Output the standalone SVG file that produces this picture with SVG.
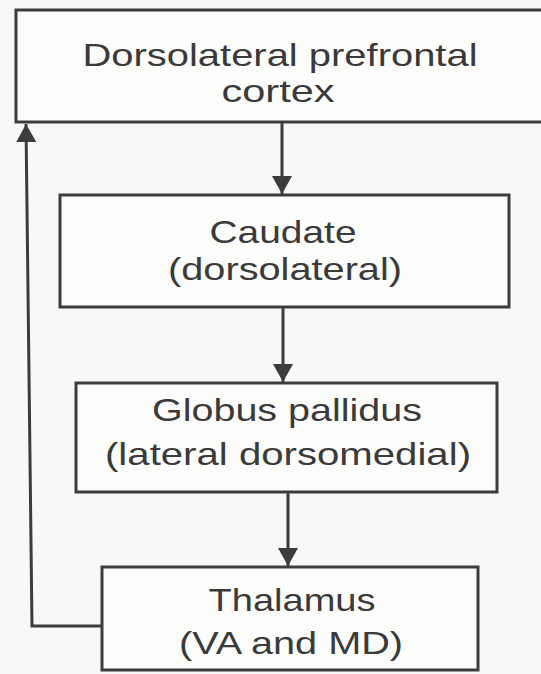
<svg xmlns="http://www.w3.org/2000/svg" width="541" height="674" viewBox="0 0 541 674">
<style>
.box{fill:#fcfcfb;stroke:#3c3c3c;stroke-width:3}
.lbl{font-family:"Liberation Sans",Arial,sans-serif;font-size:32px;fill:#3a3a3a;text-anchor:middle}
.con{fill:none;stroke:#3c3c3c;stroke-width:3}
</style>
<defs>
<marker id="ah" markerUnits="userSpaceOnUse" markerWidth="20" markerHeight="20" refX="18" refY="10" orient="auto">
<path d="M0,0 L18,10 L0,20 Z" fill="#3c3c3c"/>
</marker>
</defs>
<rect width="541" height="674" fill="#f8f8f6"/>
<g id="n1">
<rect class="box" x="16" y="10" width="530" height="112"/>
<text class="lbl" x="280" y="66" textLength="395" lengthAdjust="spacingAndGlyphs">Dorsolateral prefrontal</text>
<text class="lbl" x="278" y="102" textLength="113" lengthAdjust="spacingAndGlyphs">cortex</text>
</g>
<g id="n2">
<rect class="box" x="60" y="195" width="449" height="112"/>
<text class="lbl" x="283" y="243" textLength="147" lengthAdjust="spacingAndGlyphs">Caudate</text>
<text class="lbl" x="285" y="280" textLength="234" lengthAdjust="spacingAndGlyphs">(dorsolateral)</text>
</g>
<g id="n3">
<rect class="box" x="76" y="383" width="421" height="109"/>
<text class="lbl" x="287" y="421" textLength="270" lengthAdjust="spacingAndGlyphs">Globus pallidus</text>
<text class="lbl" x="288" y="465" textLength="366" lengthAdjust="spacingAndGlyphs">(lateral dorsomedial)</text>
</g>
<g id="n4">
<rect class="box" x="102" y="567" width="376" height="103"/>
<text class="lbl" x="292" y="611" textLength="167" lengthAdjust="spacingAndGlyphs">Thalamus</text>
<text class="lbl" x="291" y="654" textLength="224" lengthAdjust="spacingAndGlyphs">(VA and MD)</text>
</g>
<g id="connectors">
<line class="con" x1="282" y1="122" x2="282" y2="194" marker-end="url(#ah)"/>
<line class="con" x1="283" y1="307" x2="283" y2="382" marker-end="url(#ah)"/>
<line class="con" x1="288" y1="492" x2="288" y2="566" marker-end="url(#ah)"/>
<polyline class="con" points="102,626 32,626 26,124" marker-end="url(#ah)"/>
</g>
</svg>
